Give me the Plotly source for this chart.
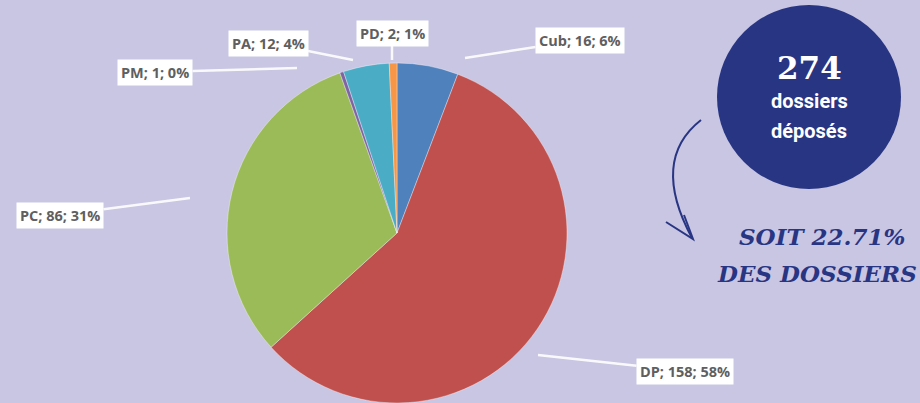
import plotly.graph_objects as go

# ---- data ----
categories = ["Cub", "DP", "PC", "PM", "PA", "PD"]
values = [16, 158, 86, 1, 12, 2]
pct_labels = ["6%", "58%", "31%", "0%", "4%", "1%"]
slice_colors = ["#4f81bd", "#c0504d", "#9bbb59", "#8064a2", "#4bacc6", "#f79646"]
total_text = "274"
share_text = "SOIT 22.71%"

# ---- layout helpers (pixel positions of callouts: text centre, leader tip) ----
W, H = 920, 403
callouts = {
    "Cub": dict(tx=580, ty=40, px=465, py=58),
    "DP": dict(tx=685, ty=371, px=538, py=355),
    "PC": dict(tx=60, ty=215, px=190, py=198),
    "PM": dict(tx=155, ty=72, px=297, py=68),
    "PA": dict(tx=268, ty=43, px=353, py=60),
    "PD": dict(tx=392, ty=33, px=392, py=60),
}

BG = "#c9c6e3"
NAVY = "#283583"

cx, cy, r = 397, 233, 170

fig = go.Figure()
fig.add_trace(go.Pie(
    labels=categories, values=values, sort=False, direction="clockwise",
    rotation=0, textinfo="none", hoverinfo="label+value+percent",
    marker=dict(colors=slice_colors, line=dict(color="rgba(255,255,255,0.35)", width=1)),
    domain=dict(x=[(cx - r) / W, (cx + r) / W], y=[(H - cy - r) / H, (H - cy + r) / H]),
    showlegend=False,
))
# invisible scatter to create pixel axes
fig.add_trace(go.Scatter(x=[0, W], y=[0, H], mode="markers", marker=dict(opacity=0),
                         hoverinfo="skip", showlegend=False))

annotations = []
for cat, val, pct in zip(categories, values, pct_labels):
    c = callouts[cat]
    annotations.append(dict(
        x=c["px"], y=c["py"], ax=c["tx"], ay=c["ty"], axref="x", ayref="y",
        xref="x", yref="y", showarrow=True, arrowhead=0, arrowwidth=2.5,
        arrowcolor="rgba(255,255,255,0.9)",
        text=f"{cat}; {val}; {pct}", bgcolor="white", borderpad=3,
        font=dict(family="Open Sans", size=14.5, color="#5f5f5f", weight="bold"),
    ))

annotations += [
    dict(x=809, y=68, xref="x", yref="y", showarrow=False, text=f"<b>{total_text}</b>",
         font=dict(family="DejaVu Serif", size=31, color="white")),
    dict(x=809, y=101, xref="x", yref="y", showarrow=False, text="<b>dossiers</b>",
         font=dict(family="Roboto", size=20, color="white")),
    dict(x=809, y=131, xref="x", yref="y", showarrow=False, text="<b>déposés</b>",
         font=dict(family="Roboto", size=20, color="white")),
    dict(x=907, y=236, xref="x", yref="y", xanchor="right", showarrow=False,
         text=f"<b><i>{share_text}</i></b>",
         font=dict(family="DejaVu Serif", size=23, color=NAVY)),
    dict(x=919, y=273, xref="x", yref="y", xanchor="right", showarrow=False,
         text="<b><i>DES DOSSIERS</i></b>",
         font=dict(family="DejaVu Serif", size=23, color=NAVY)),
]

shapes = [
    dict(type="circle", xref="x", yref="y", x0=717, x1=901, y0=5, y1=189,
         fillcolor=NAVY, line=dict(width=0)),
    dict(type="path", xref="x", yref="y", path="M 701 120 Q 650 160 692 238",
         line=dict(color=NAVY, width=2)),
    dict(type="path", xref="x", yref="y", path="M 666 222 L 693 239 L 684 215",
         line=dict(color=NAVY, width=2)),
]

fig.update_layout(
    width=W, height=H, margin=dict(l=0, r=0, t=0, b=0),
    paper_bgcolor=BG, plot_bgcolor="rgba(0,0,0,0)",
    xaxis=dict(range=[0, W], visible=False, fixedrange=True),
    yaxis=dict(range=[H, 0], visible=False, fixedrange=True),
    annotations=annotations, shapes=shapes,
)
fig.write_html("out.html", config={"displayModeBar": False},
               post_script="document.body.style.margin='0';document.body.style.overflow='hidden';")
